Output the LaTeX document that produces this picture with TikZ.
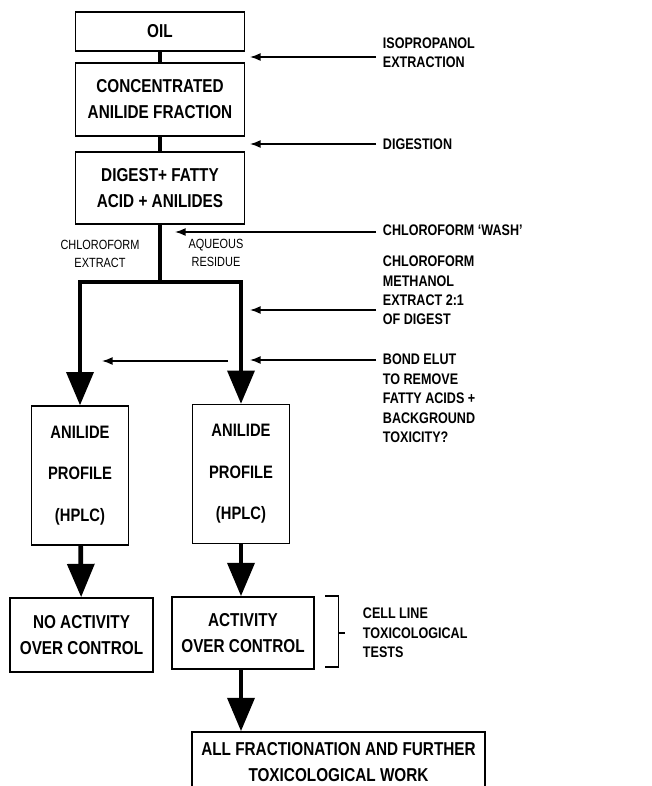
\documentclass[tikz,border=0pt]{standalone}
\usepackage{fontspec}
\setmainfont{Liberation Sans}[FakeStretch=0.82]
\usetikzlibrary{arrows.meta}
\tikzset{
  stage/.style={draw, line width=1.2pt, align=center, inner sep=0pt,
    font=\bfseries\fontsize{14}{19.5}\selectfont},
  profile/.style={stage, minimum width=72.75pt, minimum height=104pt,
    font=\bfseries\fontsize{13.5}{31}\selectfont},
  note/.style={anchor=west, align=left, inner xsep=5pt, inner ysep=0pt,
    font=\bfseries\fontsize{11.5}{14.6}\selectfont},
  phase/.style={align=center, inner sep=0pt, font=\fontsize{10}{13.5}\selectfont},
  trunk/.style={line width=3.5pt},
  flow/.style={trunk, -{Triangle[width=20pt,length=25pt]}},
  feed/.style={line width=1.1pt, -{Latex[width=6pt,length=8pt]}},
  bracket/.style={line width=1.2pt}
}
\begin{document}
\begin{tikzpicture}[x=0.75pt,y=-0.75pt]
          \useasboundingbox (0,0) rectangle (652,786);
          % main column
          \node[stage, minimum width=126.75pt, minimum height=29.25pt] (oil) at (160,31.5) {OIL};
          \node[stage, minimum width=126.75pt, minimum height=54.75pt] (conc) at (160,99.5) {CONCENTRATED\\ANILIDE FRACTION};
          \node[stage, minimum width=126.75pt, minimum height=54pt] (digest) at (160,188) {DIGEST+ FATTY\\ACID + ANILIDES};
          \node[profile] (profA) at (80,475.5) {ANILIDE\\PROFILE\\(HPLC)};
          \node[profile] (profB) at (241,474) {ANILIDE\\PROFILE\\(HPLC)};
          \node[stage, minimum width=107.25pt, minimum height=55.5pt] (noact) at (81.5,635) {NO ACTIVITY\\OVER CONTROL};
          \node[stage, minimum width=106.5pt, minimum height=54pt] (act) at (243,633) {ACTIVITY\\OVER CONTROL};
          \node[stage, minimum width=219.75pt, minimum height=45.75pt] (further) at (338.5,762.5) {ALL FRACTIONATION AND FURTHER\\TOXICOLOGICAL WORK};
          \coordinate (split) at (160,282);
          % phase labels
          \node[phase] (chlExt) at (100,254) {CHLOROFORM\\EXTRACT};
          \node[phase] (aqRes) at (216,253) {AQUEOUS\\RESIDUE};
          % connectors
          \draw[trunk] (oil) -- (conc);
          \draw[trunk] (conc) -- (digest);
          \draw[trunk] (digest) -- (split);
          \draw[flow] (split) -| (profA.north);
          \draw[flow] (split) -| (profB.north);
          \draw[flow] (profA) -- (noact);
          \draw[flow] (profB.south) -- (profB.south |- act.north);
          \draw[flow] (profB.south |- act.south) -- (profB.south |- further.north);
          % side notes
          \node[note] (isoLbl) at (376,52.5) {ISOPROPANOL\\EXTRACTION};
          \node[note] (digLbl) at (376,144) {DIGESTION};
          \node[note] (washLbl) at (376,230) {CHLOROFORM `WASH'};
          \node[note] (methLbl) at (376,290.5) {CHLOROFORM\\METHANOL\\EXTRACT 2:1\\OF DIGEST};
          \node[note] (bondLbl) at (376,398.5) {BOND ELUT\\TO REMOVE\\FATTY ACIDS +\\BACKGROUND\\TOXICITY?};
          \node[note] (cellLbl) at (356,633) {CELL LINE\\TOXICOLOGICAL\\TESTS};
          \coordinate (isoTip) at (250,57);
          \coordinate (digTip) at (250,144);
          \coordinate (washTip) at (175,232);
          \coordinate (methTip) at (250,310);
          \coordinate (bondTip) at (250,360);
          \coordinate (bondFrom) at (228,361);
          \coordinate (bondTo) at (102,361);
          \draw[feed] (isoLbl.west |- isoTip) -- (isoTip);
          \draw[feed] (digLbl.west |- digTip) -- (digTip);
          \draw[feed] (washLbl.west |- washTip) -- (washTip);
          \draw[feed] (methLbl.west |- methTip) -- (methTip);
          \draw[feed] (bondLbl.west |- bondTip) -- (bondTip);
          \draw[feed] (bondFrom) -- (bondTo);
          % bracket
          \draw[bracket] ([xshift=8pt]act.north east) -- ++(13,0) -- ++(0,71) -- ++(-13,0);
          \draw[bracket] ([xshift=17.5pt]act.east) -- ++(7,0);
        \end{tikzpicture}
\end{document}
